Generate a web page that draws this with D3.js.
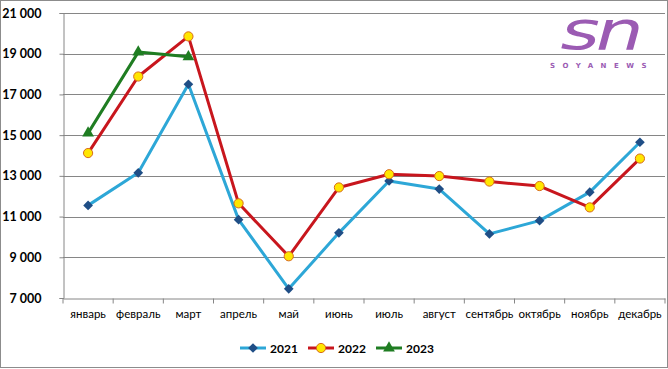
<!DOCTYPE html>
<html>
<head>
<meta charset="utf-8">
<script src="https://cdn.jsdelivr.net/npm/d3@7"></script>
<style>
  body { margin: 0; background: #fff; }
  svg { display: block; }
</style>
</head>
<body>
<div id="chart"></div>
<script>
let months = ["январь","февраль","март","апрель","май","июнь","июль","август","сентябрь","октябрь","ноябрь","декабрь"];
let values2021 = [11550,13150,17500,10850,7450,10200,12750,12350,10150,10800,12200,14650];
let values2022 = [14120,17880,19850,11650,9050,12430,13080,12990,12720,12500,11450,13850];
let values2023 = [15100,19080,18850];
let yTicks = [7000,9000,11000,13000,15000,17000,19000,21000];

let width = 668, height = 369;
let margin = {left: 63, right: 3, top: 13, bottom: 71};

let svg = d3.select("#chart").append("svg")
    .attr("width", width)
    .attr("height", height);

// outer frame
svg.append("rect")
    .attr("x", 0.5).attr("y", 0.5)
    .attr("width", width - 1).attr("height", height - 2)
    .attr("fill", "#fff")
    .attr("stroke", "#8c8c8c");

let x = d3.scaleBand()
    .domain(months)
    .range([margin.left, width - margin.right]);

let y = d3.scaleLinear()
    .domain([7000, 21000])
    .range([height - margin.bottom, margin.top]);

// gridlines
svg.append("g")
    .selectAll("line")
    .data(yTicks.slice(1))
    .join("line")
    .attr("x1", margin.left)
    .attr("x2", width - margin.right)
    .attr("y1", d => Math.round(y(d)) + 0.5)
    .attr("y2", d => Math.round(y(d)) + 0.5)
    .attr("stroke", "#868686");

// y axis
let yAxis = svg.append("g")
    .attr("transform", `translate(${margin.left + 0.5},0)`)
    .call(d3.axisLeft(y).tickValues(yTicks).tickSize(4).tickFormat(d => d3.format(",")(d).replace(",", " ")));
yAxis.select(".domain").attr("stroke", "#868686");
yAxis.selectAll(".tick line").attr("stroke", "#868686");
yAxis.selectAll("text")
    .attr("x", -22)
    .attr("fill", "#000")
    .style("font-family", "Lato, sans-serif")
    .style("font-weight", "bold")
    .style("font-size", "12.5px");

// x axis
let xAxis = svg.append("g")
    .attr("transform", `translate(0,${Math.round(y(7000)) + 0.5})`)
    .call(d3.axisBottom(x).tickSize(0).tickPadding(11));
xAxis.select(".domain").attr("stroke", "#868686");
xAxis.selectAll("text")
    .attr("fill", "#000")
    .style("font-family", "Lato, sans-serif")
    .style("font-size", "11.5px");
// tick marks between categories
xAxis.selectAll(".sep")
    .data(months.concat(["end"]))
    .join("line")
    .attr("x1", (d, i) => margin.left + i * x.bandwidth())
    .attr("x2", (d, i) => margin.left + i * x.bandwidth())
    .attr("y1", 0).attr("y2", 5)
    .attr("stroke", "#868686");

// logo
let logo = svg.append("g");
logo.append("text")
    .attr("transform", "translate(600,49) scale(1.4,1)")
    .attr("text-anchor", "middle")
    .attr("fill", "#9b5bb3")
    .style("font-family", "'DejaVu Sans', sans-serif")
    .style("font-style", "italic")
    .style("font-size", "54px")
    .style("letter-spacing", "-3px")
    .text("sn");
logo.append("text")
    .attr("x", 602).attr("y", 68)
    .attr("text-anchor", "middle")
    .attr("fill", "#9b5bb3")
    .style("font-family", "'DejaVu Sans', sans-serif")
    .style("font-weight", "bold")
    .style("font-size", "7px")
    .style("letter-spacing", "7.5px")
    .text("SOYANEWS");

let line = d3.line()
    .x((d, i) => x(months[i]) + x.bandwidth() / 2)
    .y(d => y(d));

let series = [
  {name: "2021", data: values2021, color: "#2da7d7", marker: "diamond"},
  {name: "2022", data: values2022, color: "#c8161d", marker: "circle"},
  {name: "2023", data: values2023, color: "#1f7d22", marker: "triangle"}
];

function drawMarker(g, type, cx, cy) {
  if (type === "diamond") {
    g.append("path")
      .attr("d", d3.symbol(d3.symbolDiamond2, 60)())
      .attr("transform", `translate(${cx},${cy})`)
      .attr("fill", "#1f4e86");
  } else if (type === "circle") {
    g.append("circle")
      .attr("cx", cx).attr("cy", cy).attr("r", 4.6)
      .attr("fill", "#ffe600")
      .attr("stroke", "#d86a1a")
      .attr("stroke-width", 1);
  } else {
    g.append("path")
      .attr("d", d3.symbol(d3.symbolTriangle, 60)())
      .attr("transform", `translate(${cx},${cy})`)
      .attr("fill", "#1f7d22");
  }
}

series.forEach(s => {
  svg.append("path")
    .datum(s.data)
    .attr("d", line)
    .attr("fill", "none")
    .attr("stroke", s.color)
    .attr("stroke-width", 3)
    .attr("stroke-linejoin", "round");
  let g = svg.append("g");
  s.data.forEach((v, i) => drawMarker(g, s.marker, x(months[i]) + x.bandwidth() / 2, y(v)));
});

// legend
let legendX = [240, 308, 376];
series.forEach((s, i) => {
  let g = svg.append("g").attr("transform", `translate(${legendX[i]},348)`);
  g.append("line")
    .attr("x1", 0).attr("x2", 26)
    .attr("stroke", s.color).attr("stroke-width", 3);
  drawMarker(g, s.marker, 13, 0);
  g.append("text")
    .attr("x", 30).attr("y", 4.5)
    .style("font-family", "Lato, sans-serif")
    .style("font-weight", "bold")
    .style("font-size", "12px")
    .text(s.name);
});
</script>
</body>
</html>
